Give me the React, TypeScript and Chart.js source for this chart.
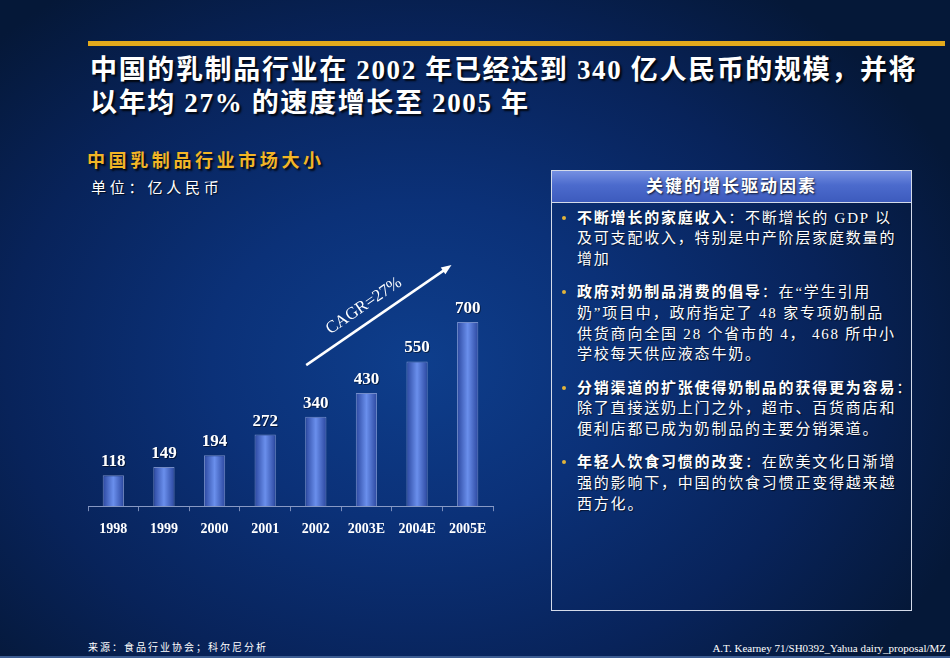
import React, { useEffect, useRef } from 'react';
import { Chart, registerables } from 'chart.js';

Chart.register(...registerables);

// ---------- data ----------
const categories = ['1998', '1999', '2000', '2001', '2002', '2003E', '2004E', '2005E'];
const marketSize = [118, 149, 194, 272, 340, 430, 550, 700];
const yAxisMax = 1000;

const cagrLabel = 'CAGR=27%';
const cagrStart = [3.81, 536]; // [category index, value]
const cagrEnd = [6.68, 916];

const titleLines = [
  '中国的乳制品行业在 2002 年已经达到 340 亿人民币的规模，并将',
  '以年均 27% 的速度增长至 2005 年',
];
const chartTitle = '中国乳制品行业市场大小';
const unitLabel = '单位：亿人民币';
const panelTitle = '关键的增长驱动因素';

const driverHeads = ['不断增长的家庭收入', '政府对奶制品消费的倡导', '分销渠道的扩张使得奶制品的获得更为容易', '年轻人饮食习惯的改变'];
const driverFirstRest = ['：不断增长的 GDP 以', '：在“学生引用', '：', '：在欧美文化日渐增'];
const driverMoreLines = [
  ['及可支配收入，特别是中产阶层家庭数量的', '增加'],
  ['奶”项目中，政府指定了 48 家专项奶制品', '供货商向全国 28 个省市的 4， 468 所中小', '学校每天供应液态牛奶。'],
  ['除了直接送奶上门之外，超市、百货商店和', '便利店都已成为奶制品的主要分销渠道。'],
  ['强的影响下，中国的饮食习惯正变得越来越', '西方化。'],
];

const sourceText = '来源：食品行业协会；科尔尼分析';
const footerRight = 'A.T. Kearney 71/SH0392_Yahua dairy_proposal/MZ';

const FONT = '"Liberation Serif", "Noto Sans CJK SC", serif';

// ---------- plugins ----------
const barLabelPlugin = {
  id: 'barLabels',
  afterDatasetsDraw(chart: any) {
    const { ctx } = chart;
    const meta = chart.getDatasetMeta(0);
    const data = chart.data.datasets[0].data;
    ctx.save();
    ctx.fillStyle = '#ffffff';
    ctx.font = `bold 17px ${FONT}`;
    ctx.textAlign = 'center';
    ctx.textBaseline = 'alphabetic';
    ctx.shadowColor = 'rgba(0,0,0,0.5)';
    ctx.shadowOffsetX = 1;
    ctx.shadowOffsetY = 1;
    meta.data.forEach((bar: any, i: number) => {
      ctx.fillText(String(data[i]), bar.x, bar.y - 9);
    });
    ctx.restore();
  },
};

const cagrPlugin = {
  id: 'cagrArrow',
  afterDraw(chart: any) {
    const { ctx, scales } = chart;
    const x1 = scales.x.getPixelForValue(cagrStart[0]);
    const y1 = scales.y.getPixelForValue(cagrStart[1]);
    const x2 = scales.x.getPixelForValue(cagrEnd[0]);
    const y2 = scales.y.getPixelForValue(cagrEnd[1]);
    const ang = Math.atan2(y2 - y1, x2 - x1);
    ctx.save();
    ctx.strokeStyle = '#ffffff';
    ctx.fillStyle = '#ffffff';
    ctx.lineWidth = 2.5;
    const head = 11;
    const bx = x2 - Math.cos(ang) * head * 0.8;
    const by = y2 - Math.sin(ang) * head * 0.8;
    ctx.beginPath();
    ctx.moveTo(x1, y1);
    ctx.lineTo(bx, by);
    ctx.stroke();
    ctx.beginPath();
    ctx.moveTo(x2, y2);
    ctx.lineTo(x2 - head * Math.cos(ang - 0.38), y2 - head * Math.sin(ang - 0.38));
    ctx.lineTo(x2 - head * Math.cos(ang + 0.38), y2 - head * Math.sin(ang + 0.38));
    ctx.closePath();
    ctx.fill();
    // label
    const t = 0.46;
    const px = x1 + (x2 - x1) * t;
    const py = y1 + (y2 - y1) * t;
    const off = 16;
    const tx = px + Math.sin(ang) * off;
    const ty = py - Math.cos(ang) * off;
    ctx.translate(tx, ty);
    ctx.rotate(ang);
    ctx.font = `17px ${FONT}`;
    ctx.textAlign = 'center';
    ctx.textBaseline = 'middle';
    ctx.fillText(cagrLabel, 0, 0);
    ctx.restore();
  },
};

function BarChart() {
  const ref = useRef<HTMLCanvasElement | null>(null);
  useEffect(() => {
    if (!ref.current) return;
    const chart = new Chart(ref.current, {
      type: 'bar',
      data: {
        labels: categories,
        datasets: [
          {
            data: marketSize,
            backgroundColor: (c: any) => {
              const ch = c.chart;
              const area = ch.chartArea;
              if (!area || !ch.scales.x) return '#4a6ad0';
              const x = ch.scales.x.getPixelForValue(c.dataIndex);
              const w = (ch.scales.x.width / categories.length) * 0.42;
              const g = ch.ctx.createLinearGradient(x - w / 2, 0, x + w / 2, 0);
              g.addColorStop(0, '#2b479f');
              g.addColorStop(0.5, '#6a8fec');
              g.addColorStop(1, '#2b479f');
              return g;
            },
            borderColor: 'rgba(150,170,225,0.75)',
            borderWidth: 1,
            categoryPercentage: 1,
            barPercentage: 0.42,
          },
        ],
      },
      options: {
        animation: false,
        responsive: false,
        maintainAspectRatio: false,
        layout: { padding: { left: 8, right: 7, top: 13, bottom: 4 } },
        plugins: { legend: { display: false }, tooltip: { enabled: false } },
        scales: {
          x: {
            grid: {
              display: true,
              drawOnChartArea: false,
              drawTicks: true,
              tickLength: 5,
              color: 'rgba(150,165,205,0.8)',
              offset: true,
            },
            border: { display: true, color: 'rgba(150,165,205,0.9)', width: 1 },
            ticks: {
              color: '#ffffff',
              font: { family: FONT, size: 14, weight: 'bold' },
              padding: 10,
            },
          },
          y: { display: false, min: 0, max: yAxisMax },
        },
      },
      plugins: [barLabelPlugin, cagrPlugin],
    } as any);
    return () => chart.destroy();
  }, []);
  return (
    <canvas
      ref={ref}
      width={420}
      height={322}
      style={{ position: 'absolute', left: 80, top: 230, width: 420, height: 322 }}
    />
  );
}

export default function App() {
  useEffect(() => {
    document.body.style.margin = '0';
  }, []);
  const shadow = '2px 2px 2px rgba(0,0,0,0.85)';
  let lineTop = 207.6;
  const LH = 20.7;
  const GAP = 12.5;
  const bulletBlocks = driverHeads.map((h, i) => {
    const top = lineTop;
    lineTop += LH * (1 + driverMoreLines[i].length) + GAP;
    return (
      <div key={i} style={{ position: 'absolute', left: 577, top, lineHeight: `${LH}px` }}>
        <div
          style={{
            position: 'absolute',
            left: -15,
            top: 8,
            width: 4,
            height: 4,
            borderRadius: 2,
            background: '#e2b43a',
          }}
        />
        <div style={{ whiteSpace: 'nowrap' }}>
          <span style={{ fontWeight: 'bold' }}>{h}</span>
          <span>{driverFirstRest[i]}</span>
        </div>
        {driverMoreLines[i].map((l, j) => (
          <div key={j} style={{ whiteSpace: 'nowrap' }}>
            {l}
          </div>
        ))}
      </div>
    );
  });

  return (
    <div
      style={{
        position: 'absolute',
        left: 0,
        top: 0,
        width: 950,
        height: 658,
        overflow: 'hidden',
        fontFamily: FONT,
        color: '#ffffff',
        background:
          'radial-gradient(ellipse 62% 70% at 44% 55%, #0e3e8c 0%, #0b3178 35%, #08235a 70%, #051838 100%)',
      }}
    >
      {/* gold rule */}
      <div style={{ position: 'absolute', left: 88, top: 41, width: 857, height: 5, background: '#e2a91c' }} />
      {/* title */}
      <div
        style={{
          position: 'absolute',
          left: 90,
          top: 54,
          fontSize: 27,
          fontWeight: 'bold',
          lineHeight: '33px',
          letterSpacing: 1.65,
          textShadow: shadow,
          whiteSpace: 'nowrap',
        }}
      >
        {titleLines.map((t, i) => (
          <div key={i}>{t}</div>
        ))}
      </div>
      {/* chart title */}
      <div
        style={{
          position: 'absolute',
          left: 87,
          top: 150,
          fontSize: 18,
          lineHeight: '22px',
          fontWeight: 'bold',
          letterSpacing: 3.6,
          color: '#f2b526',
          textShadow: shadow,
          whiteSpace: 'nowrap',
        }}
      >
        {chartTitle}
      </div>
      <div
        style={{
          position: 'absolute',
          left: 91,
          top: 178,
          fontSize: 15,
          lineHeight: '20px',
          letterSpacing: 3.8,
          textShadow: '1px 1px 1px rgba(0,0,0,0.7)',
          whiteSpace: 'nowrap',
        }}
      >
        {unitLabel}
      </div>

      <BarChart />

      {/* right panel */}
      <div
        style={{
          position: 'absolute',
          left: 551,
          top: 170,
          width: 359,
          height: 439,
          border: '1px solid #d4dbea',
        }}
      >
        <div
          style={{
            height: 31,
            borderBottom: '1px solid #d4dbea',
            background: 'linear-gradient(to bottom, #7590e2 0%, #4c6bcd 45%, #3d5bbd 100%)',
            textAlign: 'center',
            fontSize: 17,
            fontWeight: 'bold',
            lineHeight: '31px',
            letterSpacing: 2,
            textShadow: '1px 1px 2px rgba(0,0,0,0.8)',
          }}
        >
          {panelTitle}
        </div>
      </div>
      <div style={{ fontSize: 15, letterSpacing: 1.8, textShadow: '1px 1px 1px rgba(0,0,0,0.6)' }}>
        {bulletBlocks}
      </div>

      {/* footer */}
      <div
        style={{
          position: 'absolute',
          left: 88,
          top: 641,
          fontSize: 10,
          lineHeight: '14px',
          letterSpacing: 2,
          whiteSpace: 'nowrap',
        }}
      >
        {sourceText}
      </div>
      <div
        style={{
          position: 'absolute',
          right: 4,
          top: 641,
          fontSize: 11,
          lineHeight: '14px',
          whiteSpace: 'nowrap',
        }}
      >
        {footerRight}
      </div>
      <div style={{ position: 'absolute', left: 0, top: 656, width: 950, height: 2, background: '#3d5d92' }} />
    </div>
  );
}
